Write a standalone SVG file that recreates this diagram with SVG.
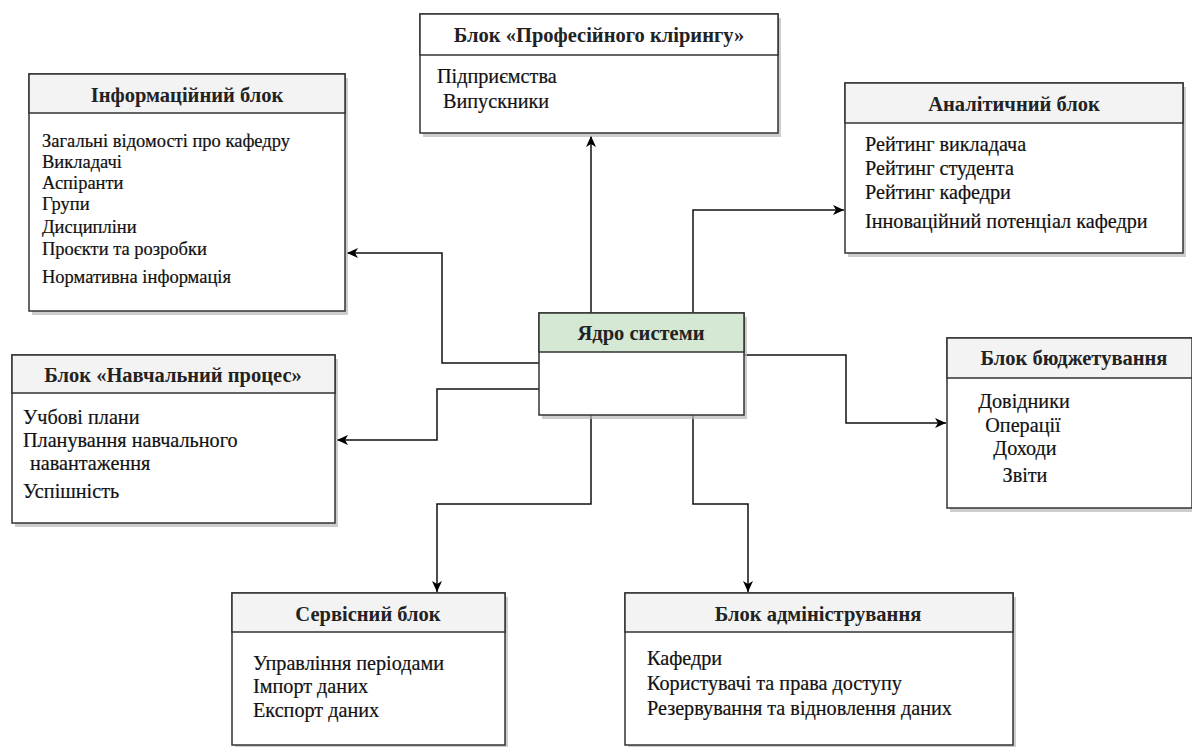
<svg xmlns="http://www.w3.org/2000/svg" width="1192" height="747" viewBox="0 0 1192 747">
  <style>
    .box { fill: #ffffff; stroke: #333333; stroke-width: 1.5; }
    .shadow { fill: #b8b8b8; opacity: 0.7; }
    .head { fill: #f3f3f3; stroke: #333333; stroke-width: 1.5; }
    .head-core { fill: #d5e8d4; stroke: #333333; stroke-width: 1.5; }
    .title { font-family: "Liberation Serif", "Times New Roman", serif; font-size: 20.5px; font-weight: bold; fill: #222222; text-anchor: middle; }
    .item { font-family: "Liberation Serif", "Times New Roman", serif; font-size: 20.2px; fill: #111111; stroke: #111111; stroke-width: 0.2; }
    .small { font-size: 18.5px; }
    .mid { text-anchor: middle; }
    .link { fill: none; stroke: #111111; stroke-width: 1.5; }
  </style>
  <defs>
    <marker id="arrow" markerUnits="userSpaceOnUse" markerWidth="12" markerHeight="10" refX="11" refY="5" orient="auto">
      <path d="M0,0 L11,5 L0,10 L3,5 z" fill="#000000"/>
    </marker>
  </defs>

  <rect width="1192" height="747" fill="#ffffff"/>

  <!-- connectors from the system core to every block -->
  <g id="connectors">
    <path class="link" d="M591,313 V136" marker-end="url(#arrow)"/>
    <path class="link" d="M693,313 V210 H844" marker-end="url(#arrow)"/>
    <path class="link" d="M539,363 H442 V253 H347" marker-end="url(#arrow)"/>
    <path class="link" d="M539,389 H437 V440 H337" marker-end="url(#arrow)"/>
    <path class="link" d="M744,355 H846 V423 H946" marker-end="url(#arrow)"/>
    <path class="link" d="M591,415 V504 H437 V592" marker-end="url(#arrow)"/>
    <path class="link" d="M693,415 V504 H748 V592" marker-end="url(#arrow)"/>
  </g>

  <!-- Information block -->
  <g id="info-block">
    <rect class="shadow" x="32" y="78" width="316" height="237"/>
    <rect class="box" x="29" y="74" width="316" height="237"/>
    <rect class="head" x="29" y="74" width="316" height="39"/>
    <text class="title" x="187" y="102">Інформаційний блок</text>
    <text class="item small" x="42" y="147">Загальні відомості про кафедру</text>
    <text class="item small" x="42" y="168">Викладачі</text>
    <text class="item small" x="42" y="189">Аспіранти</text>
    <text class="item small" x="42" y="210">Групи</text>
    <text class="item small" x="42" y="233">Дисципліни</text>
    <text class="item small" x="42" y="255">Проєкти та розробки</text>
    <text class="item small" x="42" y="283">Нормативна інформація</text>
  </g>

  <!-- Professional clearing block -->
  <g id="clearing-block">
    <rect class="shadow" x="423" y="18" width="358" height="119"/>
    <rect class="box" x="420" y="14" width="358" height="119"/>
    <rect class="head" x="420" y="14" width="358" height="41" style="fill:#ffffff"/>
    <text class="title" x="599" y="42">Блок «Професійного клірингу»</text>
    <text class="item" x="437" y="83">Підприємства</text>
    <text class="item" x="443" y="108">Випускники</text>
  </g>

  <!-- Analytic block -->
  <g id="analytic-block">
    <rect class="shadow" x="848" y="87" width="338" height="170"/>
    <rect class="box" x="845" y="83" width="338" height="170"/>
    <rect class="head" x="845" y="83" width="338" height="40"/>
    <text class="title" x="1014" y="111">Аналітичний блок</text>
    <text class="item" x="865" y="151">Рейтинг викладача</text>
    <text class="item" x="865" y="175">Рейтинг студента</text>
    <text class="item" x="865" y="199">Рейтинг кафедри</text>
    <text class="item" x="865" y="228">Інноваційний потенціал кафедри</text>
  </g>

  <!-- Educational process block -->
  <g id="education-block">
    <rect class="shadow" x="15" y="359" width="323" height="168"/>
    <rect class="box" x="12" y="355" width="323" height="168"/>
    <rect class="head" x="12" y="355" width="323" height="38"/>
    <text class="title" x="173" y="382">Блок «Навчальний процес»</text>
    <text class="item" x="23" y="424">Учбові плани</text>
    <text class="item" x="23" y="447">Планування навчального</text>
    <text class="item" x="30" y="470">навантаження</text>
    <text class="item" x="23" y="498">Успішність</text>
  </g>

  <!-- System core -->
  <g id="core">
    <rect class="shadow" x="542" y="317" width="205" height="102"/>
    <rect class="box" x="539" y="313" width="205" height="102"/>
    <rect class="head-core" x="539" y="313" width="205" height="39"/>
    <text class="title" x="641" y="340">Ядро системи</text>
  </g>

  <!-- Budgeting block -->
  <g id="budget-block">
    <rect class="shadow" x="950" y="342" width="245" height="170"/>
    <rect class="box" x="947" y="338" width="245" height="170"/>
    <rect class="head" x="947" y="338" width="245" height="40"/>
    <text class="title" x="1074" y="365">Блок бюджетування</text>
    <text class="item mid" x="1024" y="408">Довідники</text>
    <text class="item mid" x="1023" y="432">Операції</text>
    <text class="item mid" x="1025" y="455">Доходи</text>
    <text class="item mid" x="1025" y="482">Звіти</text>
  </g>

  <!-- Service block -->
  <g id="service-block">
    <rect class="shadow" x="235" y="597" width="273" height="152"/>
    <rect class="box" x="232" y="593" width="273" height="152"/>
    <rect class="head" x="232" y="593" width="273" height="39"/>
    <text class="title" x="368" y="621">Сервісний блок</text>
    <text class="item" x="253" y="670">Управління періодами</text>
    <text class="item" x="253" y="693">Імпорт даних</text>
    <text class="item" x="253" y="717">Експорт даних</text>
  </g>

  <!-- Administration block -->
  <g id="admin-block">
    <rect class="shadow" x="628" y="597" width="388" height="152"/>
    <rect class="box" x="625" y="593" width="388" height="152"/>
    <rect class="head" x="625" y="593" width="388" height="39"/>
    <text class="title" x="818" y="621">Блок адміністрування</text>
    <text class="item" x="647" y="665">Кафедри</text>
    <text class="item" x="647" y="690">Користувачі та права доступу</text>
    <text class="item" x="647" y="715">Резервування та відновлення даних</text>
  </g>
</svg>
